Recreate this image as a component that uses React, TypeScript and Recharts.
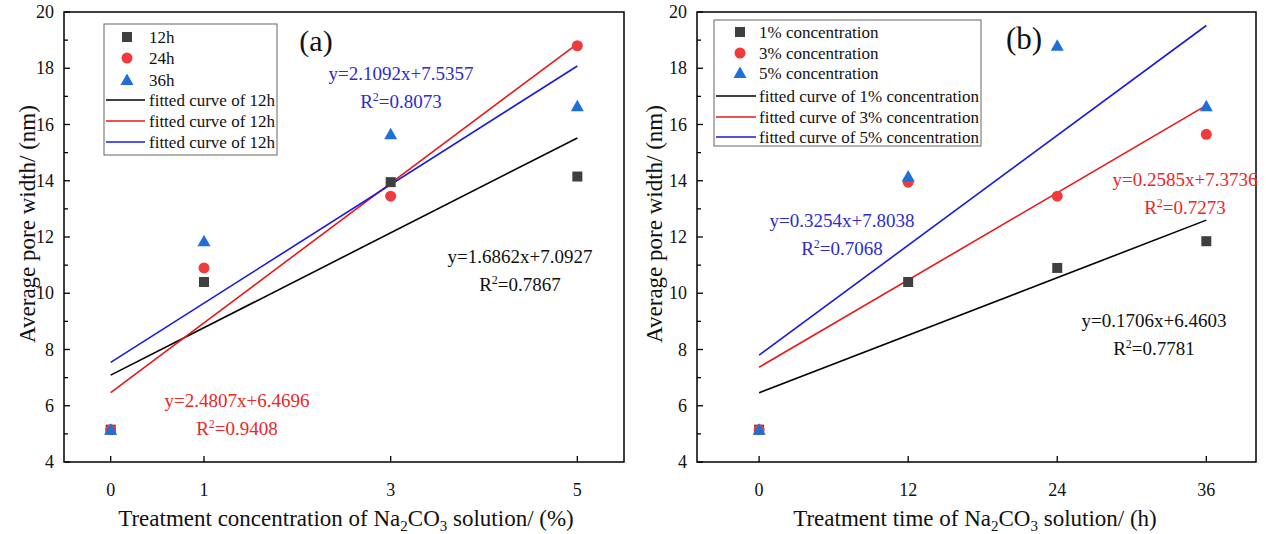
import React from "react";
import { ScatterChart, Scatter, XAxis, YAxis, ReferenceArea } from "recharts";

// x categories
const concentrations = [0, 1, 3, 5];
const hours = [0, 12, 24, 36];

// panel (a): pore width by concentration, one series per treatment time
const width12h = [5.15, 10.4, 13.95, 14.15];
const width24h = [5.15, 10.9, 13.45, 18.8];
const width36h = [5.15, 11.85, 15.65, 16.65];

// panel (b): pore width by time, one series per concentration
const width1pct = [5.15, 10.4, 10.9, 11.85];
const width3pct = [5.15, 13.95, 13.45, 15.65];
const width5pct = [5.15, 14.15, 18.8, 16.65];

// fitted line end points (at first and last x)
const fitA12 = [7.09, 15.52];
const fitA24 = [6.47, 18.87];
const fitA36 = [7.54, 18.08];
const fitB1 = [6.46, 12.6];
const fitB3 = [7.37, 16.68];
const fitB5 = [7.8, 19.52];

const yTicks = [4, 5, 6, 7, 8, 9, 10, 11, 12, 13, 14, 15, 16, 17, 18, 19, 20];

const legendA = ["12h", "24h", "36h", "fitted curve of 12h", "fitted curve of 12h", "fitted curve of 12h"];
const legendB = [
  "1% concentration",
  "3% concentration",
  "5% concentration",
  "fitted curve of 1% concentration",
  "fitted curve of 3% concentration",
  "fitted curve of 5% concentration",
];

const FONT = "'Liberation Serif', 'Times New Roman', serif";
const GREY = "#3f3f3f";
const RED = "#ef3b3b";
const BLUE = "#1f6fd8";
const LINE_COLORS = ["#000000", "#e81818", "#1a1ad8"];

const toPoints = (xs: number[], ys: number[]) => xs.map((x, i) => ({ x, y: ys[i] }));

const Square = (p: any) => <rect x={p.cx - 5} y={p.cy - 5} width={10} height={10} fill={GREY} />;
const Dot = (p: any) => <circle cx={p.cx} cy={p.cy} r={5.5} fill={RED} />;
const Tri = (p: any) => (
  <polygon points={`${p.cx},${p.cy - 6.5} ${p.cx - 6.5},${p.cy + 5} ${p.cx + 6.5},${p.cy + 5}`} fill={BLUE} />
);
const NoShape = () => <g />;

const YTick = (p: any) => {
  const v = p.payload.value;
  const major = v % 2 === 0;
  return (
    <g>
      <line x1={p.x} x2={p.x + (major ? 6 : 4)} y1={p.y} y2={p.y} stroke="#000" strokeWidth={1.3} />
      {major && (
        <text x={p.x - 10} y={p.y + 6} textAnchor="end" fontSize={18} fontFamily={FONT} fill="#111">
          {v}
        </text>
      )}
    </g>
  );
};

const XTick = (p: any) => (
  <g>
    <line x1={p.x} x2={p.x} y1={p.y} y2={p.y - 6} stroke="#000" strokeWidth={1.3} />
    <text x={p.x} y={p.y + 34} textAnchor="middle" fontSize={18} fontFamily={FONT} fill="#111">
      {p.payload.value}
    </text>
  </g>
);

type PanelProps = {
  left: number;
  width: number;
  marginRight: number;
  xs: number[];
  domain: [number, number];
  series: number[][];
  fits: number[][];
};

const Panel = ({ left, width, marginRight, xs, domain, series, fits }: PanelProps) => {
  const shapes = [Square, Dot, Tri];
  const xEnds = [xs[0], xs[xs.length - 1]];
  return (
    <div style={{ position: "absolute", left, top: 0 }}>
      <ScatterChart width={width} height={534} margin={{ top: 12, right: marginRight, bottom: 0, left: 0 }}>
        <XAxis
          type="number"
          dataKey="x"
          domain={domain}
          ticks={xs}
          height={72}
          axisLine={false}
          tickLine={false}
          tickSize={0}
          tickMargin={0}
          tick={<XTick />}
          allowDataOverflow
        />
        <YAxis
          type="number"
          dataKey="y"
          domain={[4, 20]}
          ticks={yTicks}
          interval={0}
          width={64}
          axisLine={false}
          tickLine={false}
          tickSize={0}
          tickMargin={0}
          tick={<YTick />}
          allowDataOverflow
        />
        <ReferenceArea x1={domain[0]} x2={domain[1]} y1={4} y2={20} fill="none" stroke="#000" strokeWidth={1.5} strokeOpacity={1} />
        {fits.map((f, i) => (
          <Scatter
            key={"fit" + i}
            data={toPoints(xEnds, f)}
            line={{ stroke: LINE_COLORS[i], strokeWidth: 1.6 }}
            shape={NoShape}
            isAnimationActive={false}
          />
        ))}
        {series.map((s, i) => (
          <Scatter key={"s" + i} data={toPoints(xs, s)} shape={shapes[i]} isAnimationActive={false} />
        ))}
      </ScatterChart>
    </div>
  );
};

const LegendBox = ({ x, y, w, h, rowY, symX, lineX1, lineX2, textX, labels }: any) => (
  <g>
    <rect x={x} y={y} width={w} height={h} fill="#fff" stroke="#666" strokeWidth={1} />
    {labels.map((lab: string, i: number) => {
      const cy = rowY[i];
      let mark;
      if (i === 0) mark = <Square cx={symX} cy={cy} />;
      else if (i === 1) mark = <Dot cx={symX} cy={cy} />;
      else if (i === 2) mark = <Tri cx={symX} cy={cy} />;
      else mark = <line x1={lineX1} x2={lineX2} y1={cy} y2={cy} stroke={LINE_COLORS[i - 3]} strokeWidth={1.6} />;
      return (
        <g key={i}>
          {mark}
          <text x={textX} y={cy + 6} fontSize={17} fontFamily={FONT} fill="#111">
            {lab}
          </text>
        </g>
      );
    })}
  </g>
);

const Eq = ({ x, y, color, eq, r2 }: any) => (
  <g fill={color} fontSize={19} fontFamily={FONT} textAnchor="middle">
    <text x={x} y={y + 6}>{eq}</text>
    <text x={x} y={y + 34}>
      R<tspan dy={-7} fontSize={12}>2</tspan>
      <tspan dy={7}>={r2}</tspan>
    </text>
  </g>
);

const XTitle = ({ x, text1, text2 }: any) => (
  <text x={x} y={526} textAnchor="middle" fontSize={23} fontFamily={FONT} fill="#111">
    {text1}Na<tspan dy={5} fontSize={15}>2</tspan>
    <tspan dy={-5}>CO</tspan>
    <tspan dy={5} fontSize={15}>3</tspan>
    <tspan dy={-5}>{text2}</tspan>
  </text>
);

export default function App() {
  return (
    <div style={{ position: "absolute", left: 0, top: 0, width: 1266, height: 534, background: "#fff" }}>
      <Panel
        left={0}
        width={640}
        marginRight={16}
        xs={concentrations}
        domain={[-0.5, 5.5]}
        series={[width12h, width24h, width36h]}
        fits={[fitA12, fitA24, fitA36]}
      />
      <Panel
        left={633}
        width={633}
        marginRight={10}
        xs={hours}
        domain={[-5, 40]}
        series={[width1pct, width3pct, width5pct]}
        fits={[fitB1, fitB3, fitB5]}
      />
      <svg width={1266} height={534} style={{ position: "absolute", left: 0, top: 0, pointerEvents: "none" }}>
        <LegendBox x={104} y={24} w={173} h={131} rowY={[37, 58, 80, 100, 121, 142]} symX={127} lineX1={106} lineX2={145} textX={149} labels={legendA} />
        <LegendBox x={714} y={20} w={267} h={126} rowY={[32, 53, 73, 96, 117, 137]} symX={740} lineX1={716} lineX2={756} textX={759} labels={legendB} />
        <text x={316} y={51} textAnchor="middle" fontSize={30} fontFamily={FONT} fill="#111">(a)</text>
        <text x={1024} y={49} textAnchor="middle" fontSize={31} fontFamily={FONT} fill="#111">(b)</text>
        <Eq x={401} y={74} color="#2c2cd0" eq="y=2.1092x+7.5357" r2="0.8073" />
        <Eq x={520} y={257} color="#111" eq="y=1.6862x+7.0927" r2="0.7867" />
        <Eq x={237} y={401} color="#e82828" eq="y=2.4807x+6.4696" r2="0.9408" />
        <Eq x={842} y={221} color="#2c2cd0" eq="y=0.3254x+7.8038" r2="0.7068" />
        <Eq x={1185} y={180} color="#e82828" eq="y=0.2585x+7.3736" r2="0.7273" />
        <Eq x={1154} y={321} color="#111" eq="y=0.1706x+6.4603" r2="0.7781" />
        <text transform="translate(35,224) rotate(-90)" textAnchor="middle" fontSize={23} fontFamily={FONT} fill="#111">
          Average pore width/ (nm)
        </text>
        <text transform="translate(662,224) rotate(-90)" textAnchor="middle" fontSize={23} fontFamily={FONT} fill="#111">
          Average pore width/ (nm)
        </text>
        <XTitle x={346} text1="Treatment concentration of " text2=" solution/ (%)" />
        <XTitle x={975} text1="Treatment time of " text2=" solution/ (h)" />
      </svg>
    </div>
  );
}
